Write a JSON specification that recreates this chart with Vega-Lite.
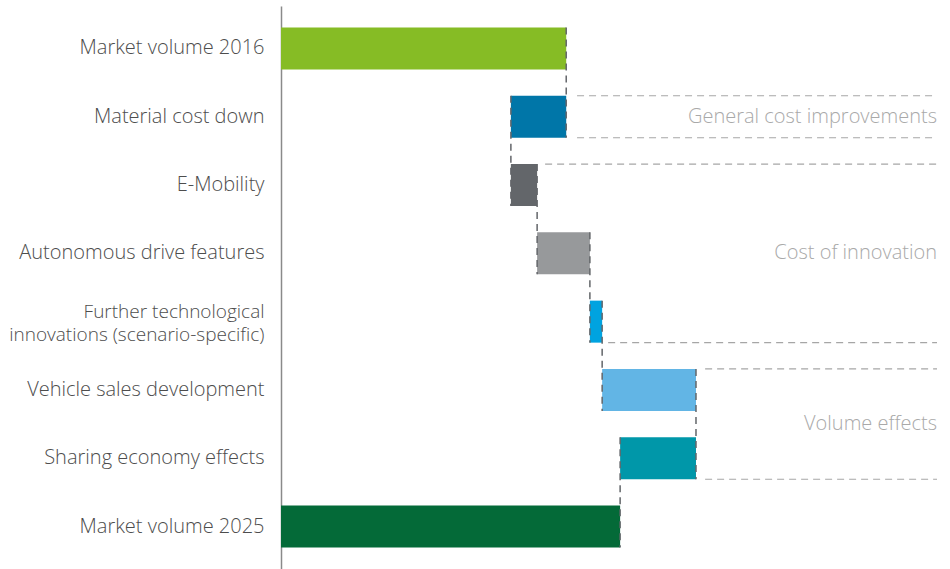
{
  "$schema": "https://vega.github.io/schema/vega-lite/v6.json",
  "width": 656,
  "height": 563,
  "autosize": {"type": "none"},
  "padding": {"left": 281, "top": 6, "right": 13, "bottom": 0},
  "background": "white",
  "config": {"view": {"stroke": null}, "font": "Open Sans"},
  "datasets": {
    "bars": [
      {"cat": "Market volume 2016", "start": 0, "end": 100},
      {"cat": "Material cost down", "start": 100, "end": 80.6},
      {"cat": "E-Mobility", "start": 80.6, "end": 89.8},
      {"cat": "Autonomous drive features", "start": 89.8, "end": 108.3},
      {"cat": "Further technological|innovations (scenario-specific)", "start": 108.3, "end": 112.6},
      {"cat": "Vehicle sales development", "start": 112.6, "end": 145.5},
      {"cat": "Sharing economy effects", "start": 145.5, "end": 118.9},
      {"cat": "Market volume 2025", "start": 0, "end": 118.9}
    ],
    "links": [
      {"cat": "Market volume 2016", "next": "Material cost down", "v": 100},
      {"cat": "Material cost down", "next": "E-Mobility", "v": 80.6},
      {"cat": "E-Mobility", "next": "Autonomous drive features", "v": 89.8},
      {"cat": "Autonomous drive features", "next": "Further technological|innovations (scenario-specific)", "v": 108.3},
      {"cat": "Further technological|innovations (scenario-specific)", "next": "Vehicle sales development", "v": 112.6},
      {"cat": "Vehicle sales development", "next": "Sharing economy effects", "v": 145.5},
      {"cat": "Sharing economy effects", "next": "Market volume 2025", "v": 118.9}
    ],
    "brackets": [
      {"cat": "Material cost down", "edge": "top", "x0": 103.8},
      {"cat": "Material cost down", "edge": "bottom", "x0": 103.8},
      {"cat": "E-Mobility", "edge": "top", "x0": 92.6},
      {"cat": "Further technological|innovations (scenario-specific)", "edge": "bottom", "x0": 114.7},
      {"cat": "Vehicle sales development", "edge": "top", "x0": 148.7},
      {"cat": "Sharing economy effects", "edge": "bottom", "x0": 148.7}
    ],
    "notes": [
      {"cat": "Material cost down", "label": "General cost improvements", "pos": "mid"},
      {"cat": "Autonomous drive features", "label": "Cost of innovation", "pos": "mid"},
      {"cat": "Vehicle sales development", "label": "Volume effects", "pos": "between"}
    ]
  },
  "layer": [
    {
      "data": {"name": "bars"},
      "mark": {"type": "bar"},
      "encoding": {
        "y": {
          "field": "cat", "type": "nominal", "title": null,
          "scale": {"domain": ["Market volume 2016", "Material cost down", "E-Mobility", "Autonomous drive features", "Further technological|innovations (scenario-specific)", "Vehicle sales development", "Sharing economy effects", "Market volume 2025"], "paddingInner": 0.385, "paddingOuter": 0.3145},
          "axis": {
            "title": null, "domain": true, "domainColor": "#8a8a8a", "domainWidth": 1.5, "ticks": false, "tickSize": 0, "labelPadding": 17,
            "labelFontSize": {"condition": {"test": "indexof(datum.value, '|') >= 0", "value": 19}, "value": 20},
            "labelOffset": {"condition": {"test": "indexof(datum.value, '|') >= 0", "value": -10}, "value": 0},
            "labelFont": "Open Sans", "labelFontWeight": 300, "labelColor": "#4d4d4d", "labelExpr": "split(datum.label, '|')", "labelLineHeight": 23, "labelLimit": 300, "grid": false
          }
        },
        "x": {"field": "start", "type": "quantitative", "scale": {"domain": [0, 230], "nice": false, "zero": false}, "axis": null},
        "x2": {"field": "end"},
        "color": {
          "field": "cat", "type": "nominal", "legend": null,
          "scale": {"domain": ["Market volume 2016", "Material cost down", "E-Mobility", "Autonomous drive features", "Further technological|innovations (scenario-specific)", "Vehicle sales development", "Sharing economy effects", "Market volume 2025"], "range": ["#86BC25", "#0076A8", "#63666A", "#97999B", "#00A3E0", "#62B5E5", "#0097A9", "#046A38"]}
        }
      }
    },
    {
      "data": {"name": "links"},
      "mark": {"type": "rule", "color": "#63666a", "strokeDash": [7, 5], "strokeWidth": 1.5},
      "encoding": {
        "y": {"field": "cat", "type": "nominal", "bandPosition": 0, "scale": {"domain": ["Market volume 2016", "Material cost down", "E-Mobility", "Autonomous drive features", "Further technological|innovations (scenario-specific)", "Vehicle sales development", "Sharing economy effects", "Market volume 2025"]}},
        "y2": {"field": "next", "bandPosition": 1},
        "x": {"field": "v", "type": "quantitative", "scale": {"domain": [0, 230]}}
      }
    },
    {
      "data": {"name": "brackets"},
      "transform": [{"filter": "datum.edge == 'top'"}],
      "mark": {"type": "rule", "color": "#a6a6a6", "strokeDash": [7, 5], "strokeWidth": 1.2},
      "encoding": {
        "y": {"field": "cat", "type": "nominal", "bandPosition": 0, "scale": {"domain": ["Market volume 2016", "Material cost down", "E-Mobility", "Autonomous drive features", "Further technological|innovations (scenario-specific)", "Vehicle sales development", "Sharing economy effects", "Market volume 2025"]}},
        "x": {"field": "x0", "type": "quantitative", "scale": {"domain": [0, 230]}},
        "x2": {"datum": 230}
      }
    },
    {
      "data": {"name": "brackets"},
      "transform": [{"filter": "datum.edge == 'bottom'"}],
      "mark": {"type": "rule", "color": "#a6a6a6", "strokeDash": [7, 5], "strokeWidth": 1.2},
      "encoding": {
        "y": {"field": "cat", "type": "nominal", "bandPosition": 1, "scale": {"domain": ["Market volume 2016", "Material cost down", "E-Mobility", "Autonomous drive features", "Further technological|innovations (scenario-specific)", "Vehicle sales development", "Sharing economy effects", "Market volume 2025"]}},
        "x": {"field": "x0", "type": "quantitative", "scale": {"domain": [0, 230]}},
        "x2": {"datum": 230}
      }
    },
    {
      "data": {"name": "notes"},
      "transform": [{"filter": "datum.pos == 'mid'"}],
      "mark": {"type": "text", "align": "right", "baseline": "middle", "fontSize": 20, "fontWeight": 300, "font": "Open Sans", "color": "#a9a9a9"},
      "encoding": {
        "y": {"field": "cat", "type": "nominal", "bandPosition": 0.5, "scale": {"domain": ["Market volume 2016", "Material cost down", "E-Mobility", "Autonomous drive features", "Further technological|innovations (scenario-specific)", "Vehicle sales development", "Sharing economy effects", "Market volume 2025"]}},
        "x": {"datum": 230, "type": "quantitative", "scale": {"domain": [0, 230]}},
        "text": {"field": "label"}
      }
    },
    {
      "data": {"name": "notes"},
      "transform": [{"filter": "datum.pos == 'between'"}],
      "mark": {"type": "text", "align": "right", "baseline": "middle", "fontSize": 20, "fontWeight": 300, "font": "Open Sans", "color": "#a9a9a9"},
      "encoding": {
        "y": {"field": "cat", "type": "nominal", "bandPosition": 1.31, "scale": {"domain": ["Market volume 2016", "Material cost down", "E-Mobility", "Autonomous drive features", "Further technological|innovations (scenario-specific)", "Vehicle sales development", "Sharing economy effects", "Market volume 2025"]}},
        "x": {"datum": 230, "type": "quantitative", "scale": {"domain": [0, 230]}},
        "text": {"field": "label"}
      }
    }
  ]
}
